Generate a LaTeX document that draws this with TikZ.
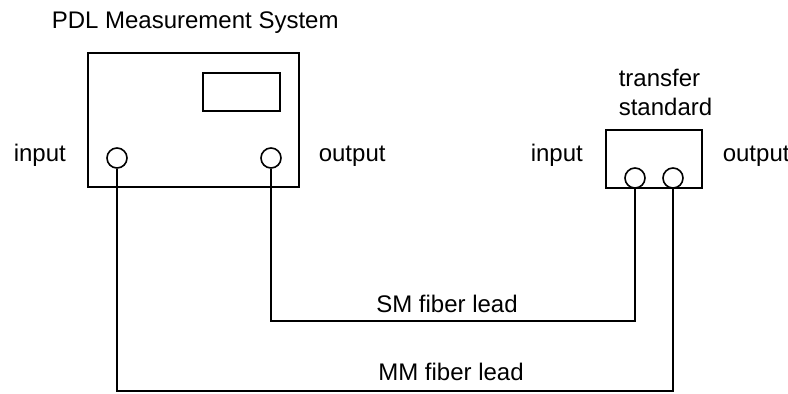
\documentclass[tikz,border=0pt]{standalone}
\usepackage{fontspec}
\setmainfont{Liberation Sans}
\usetikzlibrary{positioning}
\begin{document}
\begin{tikzpicture}[x=0.5pt, y=-0.5pt, line width=0.8pt,
    box/.style={draw, rectangle, inner sep=0pt},
    port/.style={draw, circle, inner sep=0pt, minimum size=10pt},
    lbl/.style={inner sep=0pt, anchor=base west, font=\fontsize{12}{14.5}\selectfont}]
    \useasboundingbox (0,0) rectangle (788,393);

    \node [lbl] (title) at (51,28) {PDL Measurement System};
    \node [box, minimum width=105.5pt, minimum height=67pt] (pdl) at (193.5,120) {};
    \node [box, minimum width=38.5pt, minimum height=19pt] (display) at (241.5,92) {};
    \node [port] (pdlin) at (117,158) {};
    \node [port] (pdlout) at (271,158) {};
    \node [lbl] (pdlinlbl) at (13,161) {input};
    \node [lbl] (pdloutlbl) at (318,161) {output};

    \node [lbl, anchor=north west, align=left] (tsname) at (618,68.5) {transfer\\standard};
    \node [box, minimum width=48pt, minimum height=29pt] (ts) at (654,159) {};
    \node [port] (tsin) at (635,178) {};
    \node [port] (tsout) at (673,178) {};
    \node [lbl] (tsinlbl) at (530,161) {input};
    \node [lbl] (tsoutlbl) at (722,161) {output};

    \coordinate (smy) at (0,321);
    \coordinate (mmy) at (0,391);
    \draw (pdlout.south) |- (tsin.south |- smy) -- (tsin.south);
    \draw (pdlin.south) |- (tsout.south |- mmy) -- (tsout.south);

    \node [lbl, anchor=base] (smlbl) at (447,312) {SM fiber lead};
    \node [lbl, anchor=base] (mmlbl) at (451,380) {MM fiber lead};
\end{tikzpicture}
\end{document}
